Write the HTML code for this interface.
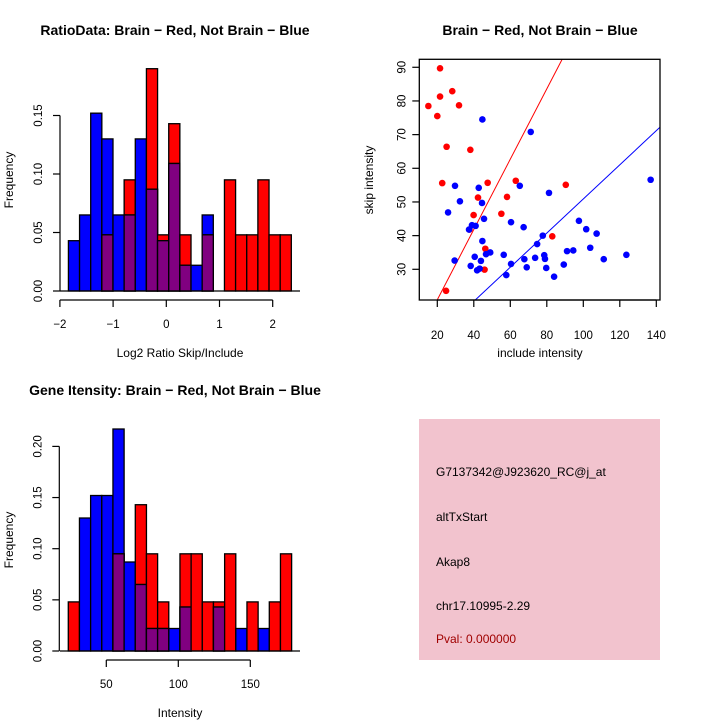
<!DOCTYPE html>
<html><head><meta charset="utf-8"><style>
body{margin:0;background:#fff}
svg{display:block;font-family:"Liberation Sans",Arial,sans-serif}
</style></head><body>
<svg id="c" width="720" height="720" viewBox="0 0 720 720">
<rect width="720" height="720" fill="#fff"/>
<g id="p1"></g>
<g id="p2"></g>
<g id="p3"></g>
<g id="p4">
<rect x="419" y="419" width="241" height="241" fill="#f2c3ce"/>
<text x="436" y="476" font-size="12">G7137342@J923620_RC@j_at</text>
<text x="436" y="521" font-size="12">altTxStart</text>
<text x="436" y="566" font-size="12">Akap8</text>
<text x="436" y="610" font-size="12">chr17.10995-2.29</text>
<text x="436" y="643" font-size="12" fill="#a00000">Pval: 0.000000</text>
</g>
</svg>
<script>
// ---- Histogram 1 data (Log2 ratio) ----
const ratioBinStart = -1.84;
const ratioBinWidth = 0.2095;
const ratioBlue = [0.043,0.065,0.152,0.130,0.065,0.065,0.130,0.087,0.043,0.109,0.022,0.022,0.065,0,0,0,0,0,0,0];
const ratioRed  = [0,0,0,0.048,0,0.095,0,0.19,0.048,0.143,0.048,0,0.048,0,0.095,0.048,0.048,0.095,0.048,0.048];
const ratioXTicks = [-2,-1,0,1,2];
const ratioYTicks = [0,0.05,0.10,0.15];
const ratioYLabels = ["0.00","0.05","0.10","0.15"];
// ---- Histogram 2 data (Intensity) ----
const intBinStart = 23.6;
const intBinWidth = 7.755;
const intBlue = [0,0.130,0.152,0.152,0.217,0.087,0.065,0.022,0.022,0.022,0.043,0,0,0.043,0,0.022,0,0.022,0,0];
const intRed  = [0.048,0,0,0,0.095,0,0.143,0.095,0.048,0,0.095,0.095,0.048,0.048,0.095,0,0.048,0,0.048,0.095];
const intXTicks = [50,100,150];
const intYTicks = [0,0.05,0.10,0.15,0.20];
const intYLabels = ["0.00","0.05","0.10","0.15","0.20"];
// ---- Scatter data ----
const redX = [15.1,20,21.5,21.5,28.2,31.9,25.1,22.7,38.1,24.8,39.9,42.3,47.6,46.3,45.9,37.6,55.1,58.2,63,90.4,83];
const redY = [78.5,75.5,89.7,81.3,82.9,78.7,66.4,55.6,65.5,23.6,46.1,51.3,55.7,36.1,29.9,41.8,46.5,51.5,56.3,55.1,39.8];
const blueX = [44.7,71.2,29.7,32.4,42.7,44.5,65.2,81.2,25.9,45.6,60.4,67.3,97.6,101.6,107.3,136.9,37.4,39.0,41.0,77.8,74.7,44.7,29.5,40.5,43.9,46.7,49.0,56.4,38.3,41.8,43.2,60.4,57.8,67.7,69.0,73.6,78.6,79.0,79.7,84.0,89.3,91.1,94.5,103.8,111.2,123.6];
const blueY = [74.5,70.8,54.8,50.2,54.2,49.7,54.8,52.7,46.9,45.0,44.0,42.5,44.4,41.9,40.6,56.6,41.8,43.1,42.9,40.0,37.5,38.4,32.6,33.7,32.5,34.5,35.0,34.3,31.0,29.7,30.2,31.6,28.3,33.0,30.6,33.4,34.2,33.1,30.4,27.8,31.4,35.4,35.6,36.4,33.0,34.3];
const fitSlopes = [1.044, 0.507];
const fitIntercepts = [0.07, 0.2];
const scatXTicks = [20,40,60,80,100,120,140];
const scatYTicks = [30,40,50,60,70,80,90];

const NS = "http://www.w3.org/2000/svg";
function mk(parent, tag, attrs, name, text){
  const e = document.createElementNS(NS, tag);
  for (const k in attrs) e.setAttribute(k, attrs[k]);
  
  
  if (text !== undefined) e.textContent = text;
  parent.appendChild(e);
  return e;
}

function histogram(g, o){
  const xs = v => o.x0px + (v - o.x0) * o.xk;
  const ys = v => o.y0px - v * o.yk;
  const n = o.red.length;
  for (let i = 0; i < n; i++){
    const a = xs(o.binStart + i*o.binWidth), b = xs(o.binStart + (i+1)*o.binWidth);
    const r = o.red[i], bl = o.blue[i];
    const draw = (h, fill, nm) => {
      if (h <= 0) return;
      const el = mk(g, 'rect', {x:a, y:ys(h), width:b-a, height:ys(0)-ys(h), fill:fill, stroke:'#000', 'stroke-width':1.3}, nm);
    };
    if (r >= bl){ draw(r, '#ff0000', 'bar-red-'+i); draw(bl, '#0000ff', 'bar-blue-'+i); }
    else { draw(bl, '#0000ff', 'bar-blue-'+i); draw(r, '#ff0000', 'bar-red-'+i); }
    if (r > 0 && bl > 0) draw(Math.min(r, bl), '#800080', 'bar-overlap-'+i);
  }
  mk(g, 'line', {x1:o.baseX1, x2:o.baseX2, y1:ys(0), y2:ys(0), stroke:'#000', 'stroke-width':1.3}, 'baseline');
  // y axis
  const yt = o.yTicks;
  mk(g, 'line', {x1:o.yAxisX, x2:o.yAxisX, y1:ys(yt[0]), y2:ys(yt[yt.length-1]), stroke:'#000', 'stroke-width':1.2}, 'y-axis-line');
  yt.forEach((v,i)=>{
    mk(g, 'line', {x1:o.yAxisX-7, x2:o.yAxisX, y1:ys(v), y2:ys(v), stroke:'#000', 'stroke-width':1.2}, 'y-tick');
    mk(g, 'text', {x:0, y:0, transform:`translate(${o.yAxisX-18},${ys(v)}) rotate(-90)`, 'font-size':11.5, 'text-anchor':'middle'}, 'y-tick-label', o.yLabels[i]);
  });
  // x axis
  const xt = o.xTicks;
  mk(g, 'line', {x1:xs(xt[0]), x2:xs(xt[xt.length-1]), y1:o.xAxisY, y2:o.xAxisY, stroke:'#000', 'stroke-width':1.2}, 'x-axis-line');
  xt.forEach(v=>{
    mk(g, 'line', {x1:xs(v), x2:xs(v), y1:o.xAxisY, y2:o.xAxisY+7, stroke:'#000', 'stroke-width':1.2}, 'x-tick');
    mk(g, 'text', {x:xs(v), y:o.xAxisY+28, 'font-size':11.5, 'text-anchor':'middle'}, 'x-tick-label', String(v).replace('-', '\u2212'));
  });
  mk(g, 'text', {x:180, y:o.xTitleY, 'font-size':12, 'text-anchor':'middle'}, 'x-axis-title', o.xTitle);
  mk(g, 'text', {x:0, y:0, transform:`translate(13,${o.yTitleY}) rotate(-90)`, 'font-size':12, 'text-anchor':'middle'}, 'y-axis-title', 'Frequency');
  mk(g, 'text', {x:175, y:o.titleY, 'font-size':14, 'font-weight':'bold', 'text-anchor':'middle'}, 'chart-title', o.title);
}

histogram(document.getElementById('p1'), {
  x0:0, x0px:166.3, xk:53.2, y0px:291, yk:1170,
  binStart:ratioBinStart, binWidth:ratioBinWidth, red:ratioRed, blue:ratioBlue,
  baseX1:60, baseX2:300, yAxisX:60, yTicks:ratioYTicks, yLabels:ratioYLabels,
  xTicks:ratioXTicks, xAxisY:300, xTitleY:357, xTitle:'Log2 Ratio Skip/Include',
  yTitleY:180, titleY:35, title:'RatioData: Brain \u2212 Red, Not Brain \u2212 Blue'
});
histogram(document.getElementById('p3'), {
  x0:50, x0px:106.3, xk:1.44, y0px:651, yk:1023,
  binStart:intBinStart, binWidth:intBinWidth, red:intRed, blue:intBlue,
  baseX1:60, baseX2:300, yAxisX:59.3, yTicks:intYTicks, yLabels:intYLabels,
  xTicks:intXTicks, xAxisY:660, xTitleY:717, xTitle:'Intensity',
  yTitleY:540, titleY:395, title:'Gene Itensity: Brain \u2212 Red, Not Brain \u2212 Blue'
});

// scatter
(function(){
  const g = document.getElementById('p2');
  const L=419.3, R=660, T=59.3, B=300;
  const xs = v => 437.3 + (v-20)*1.825;
  const ys = v => 269.3 - (v-30)*3.367;
  const xMin = 20 + (L-437.3)/1.825, xMax = 20 + (R-437.3)/1.825;
  const yMin = 30 - (B-269.3)/3.367, yMax = 30 + (269.3-T)/3.367;
  const defs = mk(g, 'defs', {}, 'clip-defs');
  const cp = mk(defs, 'clipPath', {id:'sc'}, 'plot-clip');
  mk(cp, 'rect', {x:L, y:T, width:R-L, height:B-T}, 'clip-rect');
  // fit lines
  const colors = ['#ff0000','#0000ff'];
  fitSlopes.forEach((m,i)=>{
    const b = fitIntercepts[i];
    mk(g, 'line', {x1:xs(xMin), y1:ys(m*xMin+b), x2:xs(xMax), y2:ys(m*xMax+b), stroke:colors[i], 'stroke-width':1, 'clip-path':'url(#sc)'}, i===0?'fit-line-red':'fit-line-blue');
  });
  redX.forEach((v,i)=> mk(g, 'circle', {cx:xs(v), cy:ys(redY[i]), r:3.3, fill:'#ff0000'}, 'point-red'));
  blueX.forEach((v,i)=> mk(g, 'circle', {cx:xs(v), cy:ys(blueY[i]), r:3.3, fill:'#0000ff'}, 'point-blue'));
  mk(g, 'rect', {x:L, y:T, width:R-L, height:B-T, fill:'none', stroke:'#000', 'stroke-width':1.3}, 'plot-box');
  scatXTicks.forEach(v=>{
    mk(g, 'line', {x1:xs(v), x2:xs(v), y1:B, y2:B+7, stroke:'#000', 'stroke-width':1.2}, 'x-tick');
    mk(g, 'text', {x:xs(v), y:B+39, 'font-size':11.5, 'text-anchor':'middle'}, 'x-tick-label', String(v));
  });
  mk(g, 'line', {x1:xs(scatXTicks[0]), x2:xs(scatXTicks[scatXTicks.length-1]), y1:B, y2:B, stroke:'#000', 'stroke-width':1.2}, 'x-axis-line');
  scatYTicks.forEach(v=>{
    mk(g, 'line', {x1:L-7, x2:L, y1:ys(v), y2:ys(v), stroke:'#000', 'stroke-width':1.2}, 'y-tick');
    mk(g, 'text', {x:0, y:0, transform:`translate(${L-14},${ys(v)}) rotate(-90)`, 'font-size':11.5, 'text-anchor':'middle'}, 'y-tick-label', String(v));
  });
  mk(g, 'text', {x:540, y:357, 'font-size':12, 'text-anchor':'middle'}, 'x-axis-title', 'include intensity');
  mk(g, 'text', {x:0, y:0, transform:'translate(373,180) rotate(-90)', 'font-size':12, 'text-anchor':'middle'}, 'y-axis-title', 'skip intensity');
  mk(g, 'text', {x:540, y:35, 'font-size':14, 'font-weight':'bold', 'text-anchor':'middle'}, 'chart-title', 'Brain \u2212 Red, Not Brain \u2212 Blue');
})();
</script>
</body></html>
